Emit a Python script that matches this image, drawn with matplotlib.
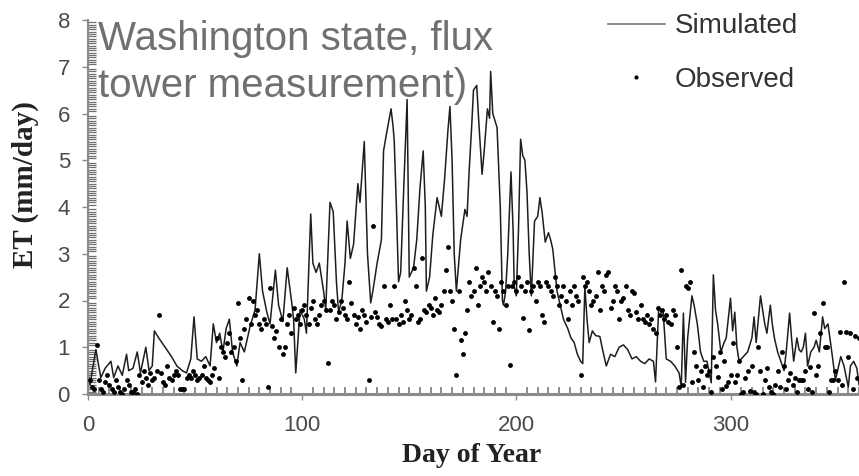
import numpy as np
import matplotlib.pyplot as plt
from matplotlib.ticker import MultipleLocator
from matplotlib.lines import Line2D

# Simulated ET (line vertices): day, mm/day
sim_day = [0, 1, 2, 3.7, 5, 6, 8, 10.7, 12, 14, 16, 18, 19, 21, 23, 24.5, 27, 28.5, 30, 31,
           33, 36, 39, 41.5, 44, 46, 48, 49.5, 51, 53, 55, 57, 58.5, 60, 61.5, 63, 64.5, 66, 67.5, 69.5,
           71, 73, 75.7, 78, 80, 81.5, 83.5, 85, 87.5, 89, 91, 93, 95, 96, 97, 99, 101, 102, 104, 105,
           106.5, 108, 110, 111, 113, 114.5, 116, 117, 118.5, 120, 121, 122.5, 124, 126, 127, 129, 130.5, 132, 133, 135,
           137, 138, 139.5, 141.5, 142.5, 143, 144, 145, 146, 147.5, 149, 150, 152, 153.5, 155, 156.5, 157.5, 158, 159.5, 161,
           163, 164, 165, 166.5, 168, 169, 170, 171, 172, 174, 176, 177, 178, 179, 180, 181.5, 182.5, 184, 185, 186.5,
           187.5, 188, 189, 191, 192.5, 193.5, 194, 195, 196, 197.5, 198.5, 199, 200, 201, 202, 203, 204, 205, 206, 207,
           208.5, 210, 211, 212, 213.5, 215, 216, 217, 219, 220.5, 222, 224, 225.5, 227, 228.5, 230, 231, 232, 233, 234,
           235.5, 237, 239, 240.5, 242, 244, 246, 248, 250, 252, 254, 256, 258, 260, 262, 264, 265, 266.5, 267.5, 268.5,
           270, 272, 274, 276, 277, 278, 279, 280, 282, 283, 284.5, 286, 287.5, 289, 291, 292, 293, 294, 295.5, 297,
           298, 300, 301, 302, 303, 304, 306, 308, 310, 311, 312, 314, 315, 316, 317, 318.6, 319.5, 320.5, 322, 323.5,
           325, 326, 327.6, 328.5, 329.5, 331, 332, 333, 334, 335, 336, 337.5, 339, 340, 341.5, 343, 344, 345.5, 347, 349,
           350, 351.5, 353, 355, 356, 357.5, 359, 360]
sim_et = [0.45, 0.2, 0.5, 0.95, 0.6, 0.35, 0.55, 0.7, 0.35, 0.6, 0.4, 0.85, 0.5, 0.55, 0.9, 0.45, 1.0, 0.5, 0.6, 1.35,
          1.2, 1.0, 0.8, 0.6, 0.5, 0.45, 0.75, 1.65, 0.75, 0.7, 0.8, 0.6, 1.5, 1.1, 1.3, 0.9, 1.4, 1.6, 0.9, 0.6,
          1.1, 0.9, 1.45, 1.8, 3.0, 2.2, 1.75, 1.5, 2.65, 1.9, 1.55, 2.7, 2.0, 1.6, 0.45, 1.8, 1.6, 1.3, 3.85, 2.8,
          2.6, 2.8, 2.2, 1.8, 4.1, 3.9, 2.4, 1.75, 2.0, 2.8, 3.7, 2.9, 3.2, 4.5, 4.1, 5.4, 3.0, 1.95, 2.2, 2.8,
          3.3, 5.2, 5.6, 6.1, 5.7, 5.4, 4.0, 2.4, 2.6, 4.5, 6.3, 2.5, 2.7, 3.3, 4.4, 5.2, 4.0, 2.2, 2.5, 3.4,
          4.2, 4.0, 3.8, 4.6, 5.6, 6.15, 5.0, 3.0, 2.2, 3.3, 3.95, 3.8, 4.8, 5.6, 6.5, 6.6, 5.8, 4.7, 5.2, 6.1,
          5.9, 6.9, 6.0, 5.7, 4.0, 2.0, 1.9, 2.2, 3.0, 4.75, 3.5, 2.3, 2.1, 3.5, 5.45, 5.1, 5.0, 4.3, 3.0, 2.1,
          3.7, 3.8, 4.2, 3.9, 3.25, 3.45, 3.3, 3.1, 2.2, 1.9, 1.6, 1.4, 1.2, 1.1, 0.85, 0.7, 0.65, 2.3, 1.6, 1.1,
          1.35, 1.25, 1.23, 0.9, 0.6, 0.85, 0.8, 1.0, 1.05, 0.95, 0.75, 0.8, 0.7, 0.65, 0.75, 0.7, 0.26, 1.87, 1.75, 1.8,
          0.75, 0.7, 0.6, 0.45, 0.15, 1.73, 0.25, 1.2, 2.1, 1.9, 1.5, 0.9, 0.7, 0.7, 0.24, 2.55, 1.8, 1.5, 0.9, 1.1,
          1.2, 2.05, 1.35, 1.75, 1.0, 0.7, 0.8, 0.9, 1.2, 1.65, 1.1, 2.1, 1.8, 1.5, 1.3, 1.9, 1.5, 1.2, 0.9, 0.7,
          0.5, 0.9, 1.73, 1.2, 0.7, 1.2, 0.95, 0.9, 1.0, 1.3, 0.6, 0.9, 1.0, 1.15, 0.9, 1.65, 1.4, 1.5, 1.0, 0.3,
          0.5, 0.8, 0.6, 0.15, 0.6, 0.7, 0.55, 0.2]

# Observed ET, one value per day (days 1..360)
obs_et = [0.3, 0.15, 0.1, 1.05, 0.3, 0.1, 0.05, 0.25, 0.4, 0.2,
          0.1, 0.05, 0.3, 0.15, 0.05, 0.0, 0.1, 0.3, 0.2, 0.05,
          0.05, 0.1, 0.0, 0.4, 0.25, 0.5, 0.35, 0.2, 0.45, 0.3,
          0.35, 0.5, 1.7, 0.45, 0.25, 0.2, 0.6, 0.35, 0.3, 0.4,
          0.5, 0.4, 0.1, 0.1, 0.1, 0.35, 0.4, 0.35, 0.5, 0.4,
          0.3, 0.35, 0.4, 0.6, 0.35, 0.3, 0.25, 0.4, 0.55, 1.2,
          0.35, 1.0, 0.9, 0.8, 1.1, 1.3, 0.9, 1.0, 0.7, 1.95,
          1.2, 0.3, 1.4, 1.6, 2.05, 1.5, 2.0, 1.7, 1.8, 1.5,
          1.4, 1.6, 1.5, 0.15, 2.27, 1.45, 1.2, 1.35, 1.0, 1.6,
          0.85, 1.0, 1.5, 1.7, 1.3, 1.85, 1.6, 1.7, 1.5, 1.8,
          1.9, 1.7, 1.5, 1.85, 2.0, 1.6, 1.5, 1.7, 1.9, 2.0,
          1.8, 0.67, 1.8, 2.0, 1.9, 1.6, 1.75, 2.0, 1.85, 1.7,
          1.6, 2.4, 1.95, 1.7, 1.5, 1.65, 1.4, 1.8, 1.7, 1.55,
          0.3, 1.65, 3.6, 1.75, 1.65, 1.5, 1.45, 2.3, 1.6, 1.55,
          1.9, 1.6, 2.3, 1.6, 1.5, 1.7, 1.55, 2.0, 1.8, 1.6,
          1.7, 2.7, 2.3, 1.55, 1.6, 2.9, 1.8, 1.75, 1.9, 1.85,
          1.7, 2.05, 1.8, 1.75, 1.9, 2.2, 2.65, 3.15, 2.2, 2.0,
          1.4, 0.4, 2.2, 1.15, 0.85, 1.3, 1.8, 2.4, 2.1, 2.2,
          2.7, 1.9, 2.3, 2.5, 2.4, 2.2, 2.6, 2.3, 1.55, 2.2,
          2.1, 1.4, 2.4, 2.2, 1.9, 2.3, 0.62, 2.3, 2.4, 2.2,
          2.5, 2.3, 1.63, 2.2, 2.4, 1.37, 2.2, 2.3, 2.0, 2.4,
          2.3, 1.7, 1.55, 2.4, 2.3, 2.2, 2.1, 2.5, 2.3, 1.9,
          2.1, 2.3, 2.0, 1.6, 2.2, 1.9, 2.3, 2.1, 2.0, 0.4,
          2.5, 2.3, 2.4, 2.2, 1.9, 2.0, 2.1, 2.6, 1.8, 2.3,
          2.2, 2.55, 2.6, 1.85, 2.0, 2.3, 2.2, 1.6, 2.0, 2.05,
          2.3, 1.8, 1.7, 2.2, 2.17, 1.75, 1.6, 1.9, 1.6, 1.55,
          1.7, 1.5, 1.6, 1.4, 1.3, 1.85, 1.7, 1.8, 1.6, 1.7,
          1.55, 1.5, 1.8, 1.7, 1.0, 0.15, 2.66, 0.2, 2.3, 2.27,
          2.4, 0.25, 0.9, 0.6, 0.3, 0.5, 0.15, 0.6, 0.4, 0.5,
          0.05, 0.8, 0.6, 0.37, 0.9, 0.1, 0.7, 0.17, 0.25, 0.4,
          1.1, 0.26, 0.4, 0.7, 0.0, 0.05, 0.35, 0.5, 0.07, 0.6,
          0.05, 0.0, 1.0, 0.5, 0.0, 0.3, 0.55, 0.15, 0.05, 0.0,
          0.2, 0.5, 0.15, 0.9, 0.6, 0.1, 0.3, 0.45, 0.2, 0.35,
          0.05, 0.3, 0.3, 0.3, 0.5, 0.1, 0.58, 0.05, 1.73, 0.4,
          0.6, 1.3, 1.95, 1.0, 1.0, 0.05, 0.3, 0.3, 0.5, 0.3,
          1.33, 0.2, 2.4, 1.33, 0.8, 1.3, 0.1, 1.23, 0.35, 1.2]
obs_day = np.arange(1, len(obs_et) + 1)

plt.rcParams['font.family'] = ['Liberation Sans', 'DejaVu Sans']

fig = plt.figure(figsize=(8.59, 4.76), dpi=100)
ax = fig.add_axes([88 / 859, 82 / 476, 771 / 859, 374 / 476])

ax.plot(sim_day, sim_et, color='#1e1e1e', lw=1.1, zorder=2)
ax.plot(obs_day, obs_et, linestyle='none', marker='o', markersize=3.5,
        color='black', markeredgewidth=0, zorder=3)

ax.set_xlim(0, 360)
ax.set_ylim(0, 8)
ax.set_xticks([0, 100, 200, 300])
ax.set_yticks(range(0, 9))
ax.xaxis.set_minor_locator(MultipleLocator(5))
ax.yaxis.set_minor_locator(MultipleLocator(0.05))

for s in ['top', 'right']:
    ax.spines[s].set_visible(False)
ax.spines['left'].set_color('#8a8a8a')
ax.spines['left'].set_linewidth(1.5)
ax.spines['bottom'].set_color('#8a8a8a')
ax.spines['bottom'].set_linewidth(2.2)

# dense gray inward minor ticks along both axes
ax.tick_params(axis='y', which='minor', direction='in', length=6, width=0.9, color='#6f6f6f')
ax.tick_params(axis='x', which='minor', direction='in', length=5, width=1.1, color='#6f6f6f')
ax.tick_params(which='major', direction='out', length=4, width=1, color='#8a8a8a',
               labelsize=16, labelcolor='#4a4a4a')
ax.tick_params(axis='x', which='major', pad=11)
ax.tick_params(axis='y', which='major', pad=9)

# axis titles
fig.text(25 / 859, 1 - 185 / 476, 'ET (mm/day)', rotation=90, ha='center', va='center',
         family='Liberation Serif', fontweight='bold', fontsize=21, color='#222222')
fig.text(472 / 859, 1 - 455 / 476, 'Day of Year', ha='center', va='center',
         family='Liberation Serif', fontweight='bold', fontsize=20, color='#222222')

# overlay caption
fig.text(98 / 859, 1 - 50 / 476, 'Washington state, flux', ha='left', va='baseline',
         fontsize=29, color='#707070')
fig.text(98 / 859, 1 - 97 / 476, 'tower measurement)', ha='left', va='baseline',
         fontsize=29, color='#707070')

handles = [Line2D([], [], color='#777777', lw=1.2),
           Line2D([], [], linestyle='none', marker='o', markersize=3, color='black', markeredgewidth=0)]
fig.legend(handles, ['Simulated', 'Observed'], loc='upper left',
           bbox_to_anchor=(608 / 859, 0.972), frameon=False, fontsize=20,
           handlelength=2.05, handletextpad=0.35, labelspacing=1.0,
           borderpad=0, borderaxespad=0, labelcolor='#333333')

fig.savefig('out.png', dpi=100)
